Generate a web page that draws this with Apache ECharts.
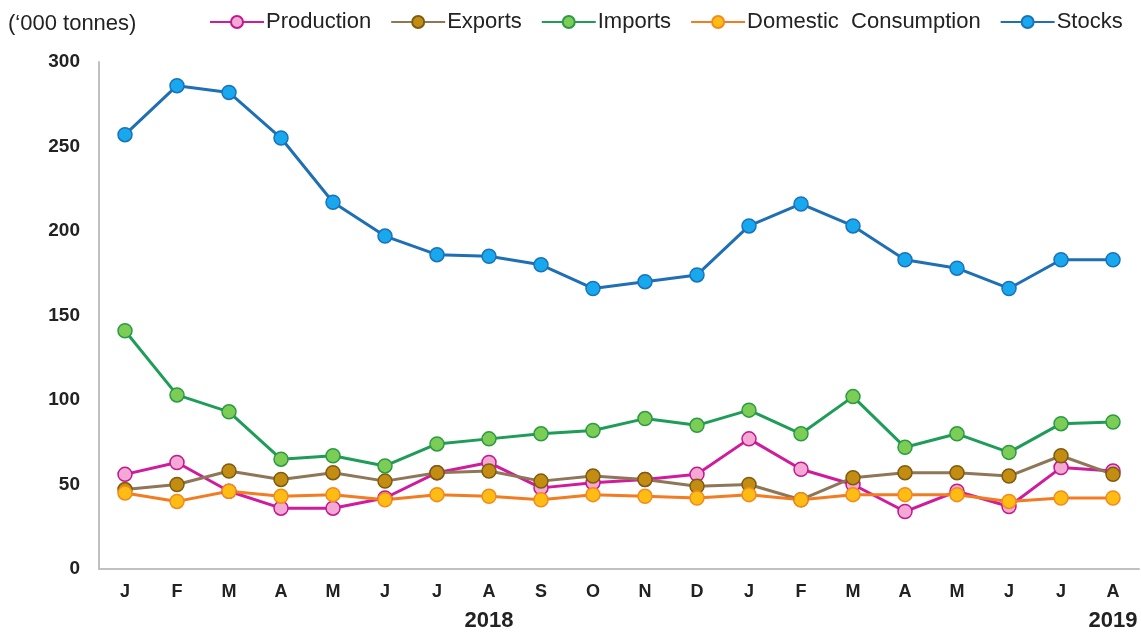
<!DOCTYPE html>
<html><head><meta charset="utf-8">
<script src="https://cdn.jsdelivr.net/npm/echarts@6/dist/echarts.min.js"></script>
<style>html,body{margin:0;padding:0;background:#fff}#c{width:1141px;height:632px}</style>
</head><body><div id="c"></div>
<script>
const months = ['J','F','M','A','M','J','J','A','S','O','N','D','J','F','M','A','M','J','J','A'];
const yearLabels = {7:'2018', 19:'2019'};
const production = [56,63,46,36,36,42,57,63,48,51,53,56,77,59,50,34,46,37,60,58];
const exportsData = [47,50,58,53,57,52,57,58,52,55,53,49,50,41,54,57,57,55,67,56];
const imports = [141,103,93,65,67,61,74,77,80,82,89,85,94,80,102,72,80,69,86,87];
const domestic = [45,40,46,43,44,41,44,43,41,44,43,42,44,41,44,44,44,40,42,42];
const stocks = [257,286,282,255,217,197,186,185,180,166,170,174,203,216,203,183,178,166,183,183];
const yTicks = {min:0, max:300, interval:50};

const styles = [
  {name:'Production', data:production, line:'#d01c9c', fill:'#f3a8d6', border:'#c2178e'},
  {name:'Exports', data:exportsData, line:'#8f7657', fill:'#c38d12', border:'#7d5c12'},
  {name:'Imports', data:imports, line:'#1e9c58', fill:'#7ccd55', border:'#2b9a45'},
  {name:'Domestic  Consumption', data:domestic, line:'#f27c22', fill:'#ffbd14', border:'#f28a20'},
  {name:'Stocks', data:stocks, line:'#1f6fb5', fill:'#18a8ee', border:'#1a72ba'}
];

const chart = echarts.init(document.getElementById('c'), null, {renderer:'canvas'});
chart.setOption({
  animation:false,
  backgroundColor:'#fff',
  title:{text:"(‘000 tonnes)", left:3, top:8, textStyle:{fontFamily:'Liberation Sans', fontSize:22, fontWeight:'normal', color:'#222'}},
  legend:{
    left:204, top:6, itemWidth:54, itemHeight:15, itemGap:19,
    textStyle:{fontFamily:'Liberation Sans', fontSize:22, color:'#222', padding:[0,0,0,-3]},
    data: styles.map(s=>s.name)
  },
  grid:{left:99, right:2, top:62, bottom:63, containLabel:false, outerBoundsMode:'none'},
  xAxis:{
    type:'category', data:months, boundaryGap:true,
    axisLine:{lineStyle:{color:'#c0c0c0', width:2}},
    axisTick:{show:false},
    axisLabel:{
      interval:0, margin:10,
      formatter:(v,i)=> yearLabels[i] ? '{m|'+v+'}\n{y|'+yearLabels[i]+'}' : '{m|'+v+'}',
      rich:{
        m:{fontFamily:'Liberation Sans', fontSize:18, fontWeight:'bold', color:'#222', lineHeight:26},
        y:{fontFamily:'Liberation Sans', fontSize:22, fontWeight:'bold', color:'#222', lineHeight:32}
      }
    }
  },
  yAxis:{
    type:'value', min:yTicks.min, max:yTicks.max, interval:yTicks.interval,
    axisLine:{show:true, lineStyle:{color:'#c0c0c0', width:2}},
    axisTick:{show:false},
    splitLine:{show:false},
    axisLabel:{margin:19, fontFamily:'Liberation Sans', fontSize:19, fontWeight:'bold', color:'#222'}
  },
  series: styles.map(s=>({
    name:s.name, type:'line', data:s.data,
    symbol:'circle', symbolSize:14,
    lineStyle:{color:s.line, width:3},
    itemStyle:{color:s.fill, borderColor:s.border, borderWidth:1.5},
    emphasis:{disabled:true}
  }))
});
</script></body></html>
